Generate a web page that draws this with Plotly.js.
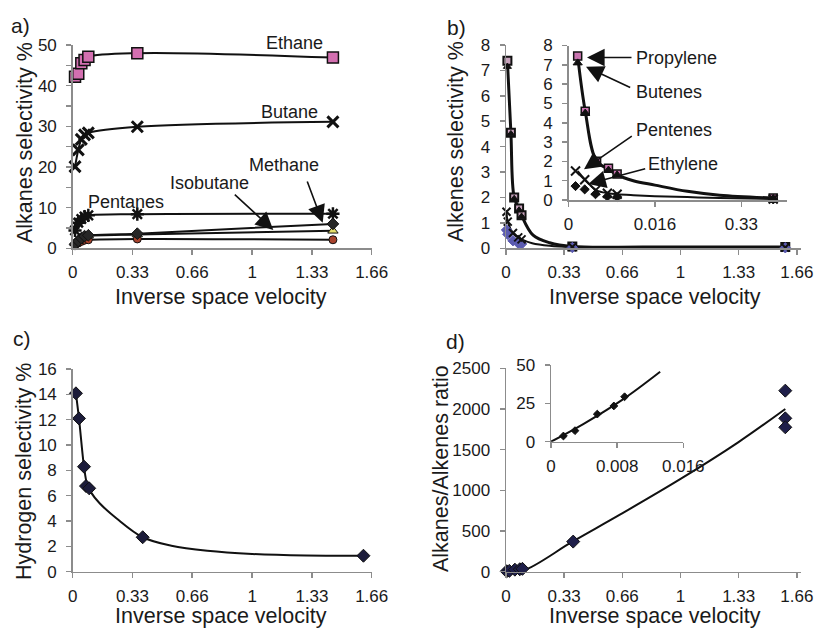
<!DOCTYPE html>
<html><head><meta charset="utf-8">
<script src="https://cdn.plot.ly/plotly-3.0.1.min.js"></script>
<style>html,body{margin:0;padding:0;background:#fff}#chart{width:815px;height:628px}</style>
</head><body><div id="chart"></div>
<script>
// ---------- Panel a: alkanes selectivity ----------
const aX        = [0.013, 0.031, 0.048, 0.066, 0.087, 0.36, 1.45];
const ethane    = [42.2, 42.9, 45.5, 46.3, 47.1, 48.0, 46.9];
const butane    = [20.1, 24.2, 26.8, 27.9, 28.4, 29.9, 31.1];
const pentanes  = [4.4, 6.3, 7.2, 7.8, 8.1, 8.4, 8.5];
const methane   = [1.0, 1.8, 2.5, 3.0, 3.2, 3.6, 6.0];
const isobutane = [1.2, 2.0, 2.6, 3.0, 3.1, 3.4, 4.3];
const otherAlk  = [0.8, 1.3, 1.7, 2.0, 2.1, 2.3, 2.1];

// ---------- Panel b: alkenes selectivity ----------
const bX         = [0.008, 0.028, 0.047, 0.075, 0.089, 0.38, 1.6];
const propylene  = [7.38, 4.55, 2.0, 1.57, 1.3, 0.07, 0.05];
const butenes    = [7.15, 4.5, 1.95, 1.5, 1.25, 0.06, 0.04];
const bXlow      = [0.003, 0.010, 0.040, 0.070, 0.089, 0.38, 1.6];
const pentenes   = [1.44, 1.05, 0.6, 0.43, 0.35, 0.05, 0.03];
const ethylene   = [0.72, 0.55, 0.3, 0.2, 0.17, 0.03, 0.02];
const bCurveX    = [0.008, 0.028, 0.047, 0.075, 0.089, 0.155, 0.25, 0.38, 0.8, 1.6];
const bCurveY    = [7.38, 4.55, 2.0, 1.57, 1.3, 0.52, 0.22, 0.07, 0.05, 0.05];
const bLowCurveX = [0.003, 0.010, 0.040, 0.070, 0.089, 0.15, 0.25, 0.38, 0.8, 1.6];
const bLowCurveY = [1.44, 1.05, 0.6, 0.43, 0.35, 0.2, 0.1, 0.05, 0.03, 0.03];

// inset of b (axis labels 0, 0.016, 0.33)
const ibX          = [0.0017, 0.0031, 0.0052, 0.0074, 0.0090, 0.0379];
const ibPropylene  = [7.45, 4.6, 2.0, 1.65, 1.35, 0.1];
const ibButenes    = [7.1, 4.5, 1.95, 1.55, 1.3, 0.08];
const ibXlow       = [0.0013, 0.0030, 0.0050, 0.0072, 0.0090, 0.0379];
const ibPentenes   = [1.5, 1.05, 0.5, 0.35, 0.3, 0.05];
const ibEthylene   = [0.72, 0.55, 0.3, 0.18, 0.16, 0.03];
const ibCurveX     = [0.0017, 0.0031, 0.0052, 0.0074, 0.0090, 0.012, 0.016, 0.022, 0.028, 0.0379];
const ibCurveY     = [7.45, 4.6, 2.0, 1.6, 1.3, 1.0, 0.77, 0.45, 0.25, 0.1];
const ibLowCurveY  = [1.5, 1.05, 0.5, 0.35, 0.3, 0.25, 0.2, 0.15, 0.1, 0.05];
const ibTickVals   = [0, 0.016, 0.032];
const ibTickText   = ['0', '0.016', '0.33'];

// ---------- Panel c: hydrogen selectivity ----------
const cX       = [0.018, 0.035, 0.063, 0.074, 0.092, 0.39, 1.62];
const hydrogen = [14.08, 12.1, 8.29, 6.76, 6.58, 2.72, 1.26];
const cCurveX  = [0.018, 0.035, 0.063, 0.08, 0.1, 0.15, 0.245, 0.39, 0.55, 0.75, 1.0, 1.3, 1.62];
const cCurveY  = [14.08, 12.1, 8.29, 6.9, 6.3, 5.4, 4.2, 2.72, 2.05, 1.65, 1.4, 1.28, 1.26];

// ---------- Panel d: alkanes/alkenes ratio ----------
const dX      = [0.004, 0.019, 0.051, 0.079, 0.094, 0.385, 1.6, 1.6, 1.6];
const ratio   = [5, 10, 25, 30, 35, 370, 2225, 1885, 1775];
const dLineX  = [0, 0.1, 0.385, 0.66, 1.0, 1.33, 1.6];
const dLineY  = [0, 15, 375, 710, 1140, 1590, 2000];
// inset of d
const idX     = [0.0015, 0.0029, 0.0056, 0.0076, 0.0089];
const idRatio = [3.7, 7.2, 18, 23.3, 29.3];
const idLineX = [0, 0.0039, 0.0087, 0.0132];
const idLineY = [0, 11.5, 27.6, 45.6];

// shared tick labels of the main x axes
const mainTickVals = [0, 0.333, 0.666, 1, 1.333, 1.666];
const mainTickText = ['0', '0.33', '0.66', '1', '1.33', '1.66'];

// ---------- helpers ----------
const FONT = 'Liberation Sans, Arial, sans-serif';
const INK = '#1a1a1a';
const AXC = '#8c8c8c';
const W = 815, H = 628;
const px = v => v / W;
const py = v => 1 - v / H;

function line(x, y, xa, ya, w) {
  return {x, y, xaxis: xa, yaxis: ya, mode: 'lines', type: 'scatter', hoverinfo: 'skip',
    line: {color: '#111', width: w || 2, shape: 'spline', smoothing: 1}, showlegend: false, cliponaxis: false};
}
function pts(x, y, xa, ya, symbol, size, fill, lw, lc) {
  return {x, y, xaxis: xa, yaxis: ya, mode: 'markers', type: 'scatter', showlegend: false, cliponaxis: false,
    marker: {symbol, size, color: fill, line: {width: lw === undefined ? 1 : lw, color: lc || '#111'}}};
}

const traces = [
  // a
  line(aX, ethane, 'x', 'y'), line(aX, butane, 'x', 'y'), line(aX, pentanes, 'x', 'y'),
  line(aX, methane, 'x', 'y'), line(aX, isobutane, 'x', 'y'), line(aX, otherAlk, 'x', 'y'),
  pts(aX, ethane, 'x', 'y', 'square', 11, '#d36fb0', 1.5),
  pts(aX, butane, 'x', 'y', 'x-thin-open', 11, '#111', 3),
  pts(aX, pentanes, 'x', 'y', 'asterisk-open', 11, '#111', 2.5),
  pts(aX, otherAlk, 'x', 'y', 'circle', 8, '#a8422c', 1),
  pts(aX, isobutane, 'x', 'y', 'triangle-up', 9, '#e6df6a', 1),
  pts(aX, methane, 'x', 'y', 'diamond', 9, '#262626', 1),
  // b main
  line(bCurveX, bCurveY, 'x2', 'y2', 3), line(bLowCurveX, bLowCurveY, 'x2', 'y2', 2),
  pts(bX, propylene, 'x2', 'y2', 'square', 8, '#c9a3bd', 2),
  pts(bX, butenes, 'x2', 'y2', 'triangle-up', 7, '#111', 1),
  pts(bXlow, ethylene, 'x2', 'y2', 'diamond', 8, '#5b5bb0', 1, '#5b5bb0'),
  pts(bXlow, pentenes, 'x2', 'y2', 'x-thin-open', 8, '#111', 2),
  // c
  line(cCurveX, cCurveY, 'x3', 'y3', 2),
  pts(cX, hydrogen, 'x3', 'y3', 'diamond', 10, '#1c1c3a', 1),
  // d
  line(dLineX, dLineY, 'x4', 'y4', 2),
  pts(dX, ratio, 'x4', 'y4', 'diamond', 10, '#1f1f4a', 1),
  // inset b
  line(ibCurveX, ibCurveY, 'x5', 'y5', 3), line(ibCurveX, ibLowCurveY, 'x5', 'y5', 2),
  pts(ibX, ibPropylene, 'x5', 'y5', 'square', 8, '#c974b0', 1.5),
  pts(ibX, ibButenes, 'x5', 'y5', 'triangle-up', 8, '#111', 1),
  pts(ibXlow, ibEthylene, 'x5', 'y5', 'diamond', 7, '#111', 1),
  pts(ibXlow, ibPentenes, 'x5', 'y5', 'x-thin-open', 9, '#111', 2),
  // inset d
  line(idLineX, idLineY, 'x6', 'y6', 2),
  pts(idX, idRatio, 'x6', 'y6', 'diamond', 6, '#111', 1)
];

function xax(domain, range, tickvals, ticktext, anchor) {
  return {domain, range, anchor, tickmode: 'array', tickvals, ticktext, showgrid: false, zeroline: false,
    showline: true, linecolor: AXC, linewidth: 1.5, ticks: 'outside', ticklen: 5, tickcolor: AXC, tickwidth: 1.5,
    ticklabelstandoff: 3, ticklabeloverflow: 'allow',
    tickfont: {family: FONT, size: 17, color: INK}, fixedrange: true};
}
function yax(domain, range, dtick, anchor, minor) {
  const o = {domain, range, anchor, tickmode: 'linear', tick0: 0, dtick, showgrid: false, zeroline: false,
    showline: true, linecolor: AXC, linewidth: 1.5, ticks: 'outside', ticklen: 5, tickcolor: AXC, tickwidth: 1.5,
    ticklabelstandoff: 6, ticklabeloverflow: 'allow',
    tickfont: {family: FONT, size: 17, color: INK}, fixedrange: true};
  if (minor) o.minor = {dtick: minor, ticks: 'outside', ticklen: 5, tickcolor: AXC, tickwidth: 1.5, showgrid: false};
  return o;
}

const topY = [py(248.3), py(45)];
const botY = [py(571.7), py(369)];
const leftX = [px(72.7), px(371.7)];
const rightX = [px(506), px(801)];

const layout = {
  width: W, height: H, margin: {l: 0, r: 0, t: 0, b: 0},
  paper_bgcolor: '#fff', plot_bgcolor: 'rgba(0,0,0,0)', showlegend: false,
  font: {family: FONT, color: INK},
  xaxis: xax(leftX, [0, 1.666], mainTickVals, mainTickText, 'y'),
  yaxis: yax(topY, [0, 50], 10, 'x', 5),
  xaxis2: xax(rightX, [0, 1.69], mainTickVals, mainTickText, 'y2'),
  yaxis2: yax(topY, [0, 8], 1, 'x2'),
  xaxis3: xax(leftX, [0, 1.666], mainTickVals, mainTickText, 'y3'),
  yaxis3: yax(botY, [0, 16], 2, 'x3'),
  xaxis4: xax(rightX, [0, 1.69], mainTickVals, mainTickText, 'y4'),
  yaxis4: yax([py(571.7), py(368.3)], [0, 2500], 500, 'x4'),
  xaxis5: xax([px(568.5), px(786.7)], [0, 0.0404], ibTickVals, ibTickText, 'y5'),
  yaxis5: yax([py(200), py(45.5)], [0, 8], 1, 'x5'),
  xaxis6: xax([px(551), px(683.3)], [0, 0.016], [0, 0.008, 0.016], ['0', '0.008', '0.016'], 'y6'),
  yaxis6: yax([py(441.7), py(365)], [0, 50], 25, 'x6'),
  annotations: []
};

function txt(text, x, y, size, extra) {
  return Object.assign({text, x: px(x), y: py(y), xref: 'paper', yref: 'paper', showarrow: false,
    xanchor: 'center', yanchor: 'middle', font: {family: FONT, size, color: INK}}, extra || {});
}
function arrow(tailX, tailY, tipX, tipY) {
  return {text: '', x: px(tipX), y: py(tipY), xref: 'paper', yref: 'paper', showarrow: true,
    ax: tailX - tipX, ay: tailY - tipY, axref: 'pixel', ayref: 'pixel',
    arrowhead: 2, arrowsize: 2.2, arrowwidth: 1.6, arrowcolor: '#111', standoff: 0};
}

layout.annotations.push(
  txt('a)', 20, 26, 21), txt('b)', 456, 27, 21), txt('c)', 22, 338, 21), txt('d)', 455, 341, 21),
  txt('Alkanes selectivity %', 25, 143, 21.5, {textangle: -90}),
  txt('Alkenes selectivity %', 456, 142, 21.5, {textangle: -90}),
  txt('Hydrogen selectivity %', 24, 472, 21.5, {textangle: -90}),
  txt('Alkanes/Alkenes ratio', 441, 469, 21.5, {textangle: -90}),
  txt('Inverse space velocity', 221, 297, 21.5), txt('Inverse space velocity', 655, 297, 21.5),
  txt('Inverse space velocity', 221, 616, 21.5), txt('Inverse space velocity', 655, 616, 21.5),
  txt('Ethane', 294.7, 43.3, 18), txt('Butane', 289, 111.7, 18), txt('Methane', 284.3, 165, 18),
  txt('Isobutane', 209.3, 183.3, 18), txt('Pentanes', 126, 201.7, 18),
  arrow(306.7, 180, 322.7, 222.7), arrow(233.3, 193.3, 273.3, 230),
  txt('Propylene', 676.7, 58.3, 18), txt('Butenes', 669.3, 91.7, 18),
  txt('Pentenes', 674, 130, 18), txt('Ethylene', 683.3, 164.3, 18),
  arrow(633, 57.5, 587, 57.5), arrow(631.7, 88.3, 586, 66.7),
  arrow(633.3, 135, 584, 169.3), arrow(646.7, 168.3, 588.3, 184)
);

Plotly.newPlot('chart', traces, layout, {staticPlot: true, displayModeBar: false});
</script>
</body></html>
